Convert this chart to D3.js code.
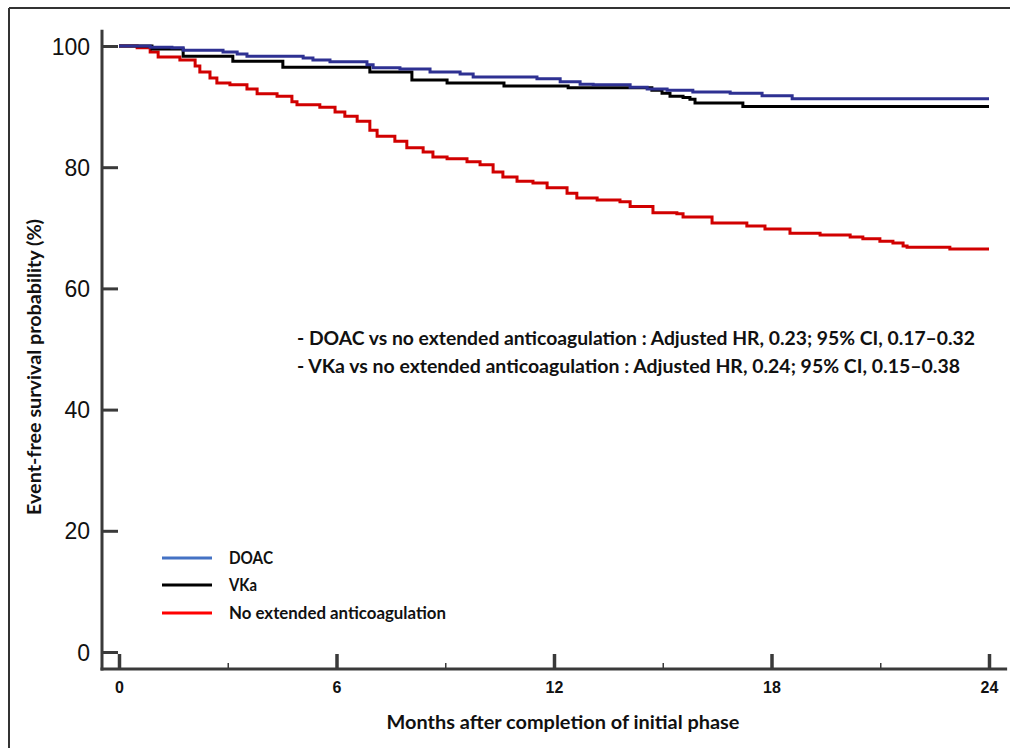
<!DOCTYPE html>
<html>
<head>
<meta charset="utf-8">
<script src="https://cdn.jsdelivr.net/npm/d3@7/dist/d3.min.js"></script>
<style>
  html, body { margin: 0; padding: 0; background: #fff; }
  svg { display: block; font-family: Lato, "Open Sans", "Noto Sans", sans-serif; }
</style>
</head>
<body>
<svg id="chart" width="1010" height="748"></svg>
<script>
// ---- Data (months, event-free survival %) ----
const doacMonths = [0, 0.86, 1.46, 1.77, 2.87, 3.26, 3.53, 5.08, 5.35, 5.82, 6.84, 7.01, 7.75, 8.58, 9.41, 9.77, 11.53, 12.17, 12.72, 13.08, 14.10, 14.57, 15.12, 15.83, 16.86, 17.74, 18.57, 24];
const doacValues = [100, 99.8, 99.7, 99.3, 99.0, 98.7, 98.3, 98.0, 97.7, 97.4, 96.9, 96.4, 96.2, 95.7, 95.4, 94.9, 94.6, 94.1, 93.7, 93.6, 93.2, 92.9, 92.7, 92.4, 92.2, 91.8, 91.3, 91.3];

const vkaMonths = [0, 0.91, 1.77, 3.14, 4.52, 6.92, 8.08, 9.05, 10.62, 12.39, 14.70, 14.98, 15.20, 15.56, 15.75, 15.89, 17.21, 24];
const vkaValues = [100, 99.5, 98.3, 97.5, 96.5, 95.7, 94.4, 93.9, 93.4, 93.1, 92.7, 92.2, 91.7, 91.5, 91.2, 90.6, 90.0, 90.0];

const noneMonths = [0, 0.50, 0.86, 1.08, 1.68, 2.10, 2.23, 2.51, 2.70, 3.06, 3.53, 3.81, 4.36, 4.77, 4.91, 5.54, 5.96, 6.23, 6.57, 6.92, 7.12, 7.61, 7.94, 8.39, 8.66, 9.05, 9.60, 9.96, 10.32, 10.59, 10.98, 11.42, 11.81, 12.36, 12.63, 13.19, 13.82, 14.10, 14.73, 15.39, 15.56, 16.36, 17.32, 17.82, 18.51, 19.34, 20.17, 20.52, 20.99, 21.35, 21.63, 21.74, 22.92, 24];
const noneValues = [100, 99.7, 99.0, 98.2, 97.7, 96.7, 95.7, 94.7, 93.9, 93.6, 92.9, 92.1, 91.7, 90.8, 90.3, 89.9, 89.1, 88.4, 87.6, 86.1, 85.1, 84.3, 83.2, 82.5, 81.7, 81.4, 80.9, 80.4, 79.2, 78.4, 77.7, 77.4, 76.6, 75.7, 74.9, 74.6, 74.3, 73.5, 72.5, 72.3, 71.8, 70.8, 70.3, 69.8, 69.1, 68.8, 68.5, 68.2, 67.8, 67.5, 67.0, 66.8, 66.5, 66.5];

const seriesNames = ["DOAC", "VKa", "No extended anticoagulation"];
const curveColors = ["#2E3192", "#000000", "#D10000"];
const legendColors = ["#4472C4", "#000000", "#FF0000"];

const xMajorTicks = [0, 6, 12, 18, 24];
const xMinorTicks = [3, 9, 15, 21];
const yTicks = [0, 20, 40, 60, 80, 100];

const xTitle = "Months after completion of initial phase";
const yTitle = "Event-free survival probability (%)";
const annotations = [
  "- DOAC vs no extended anticoagulation : Adjusted HR, 0.23; 95% CI, 0.17\u20130.32",
  "- VKa vs no extended anticoagulation : Adjusted HR, 0.24; 95% CI, 0.15\u20130.38"
];

// ---- Layout ----
const svg = d3.select("#chart");
const axisColor = "#3a3a3a";
const textColor = "#111";

const x = d3.scaleLinear().domain([0, 24]).range([119, 989]);
const y = d3.scaleLinear().domain([0, 100]).range([652, 46]);
const axisX = 102;   // y-axis line position
const axisY = 669;   // x-axis line position

// outer frame (top & left edges visible)
svg.append("line").attr("x1", 9).attr("x2", 1010).attr("y1", 8).attr("y2", 8)
  .attr("stroke", "#333").attr("stroke-width", 2);
svg.append("line").attr("x1", 9).attr("x2", 9).attr("y1", 8).attr("y2", 748)
  .attr("stroke", "#333").attr("stroke-width", 2);

// Y axis
const yAxisG = svg.append("g").attr("transform", `translate(${axisX},0)`)
  .call(d3.axisLeft(y).tickValues(yTicks).tickSize(-16).tickPadding(12).tickFormat(d3.format("d")));
yAxisG.select(".domain").remove();
yAxisG.selectAll(".tick line").attr("stroke", axisColor).attr("stroke-width", 3);
yAxisG.selectAll(".tick text").attr("fill", textColor).style("font-size", "23px")
  .style("font-weight", "400").attr("dy", "0.35em");
yAxisG.append("line").attr("x1", 0).attr("x2", 0)
  .attr("y1", y(102.7)).attr("y2", axisY + 1.5)
  .attr("stroke", axisColor).attr("stroke-width", 3);

// X axis
const xAxisG = svg.append("g").attr("transform", `translate(0,${axisY})`)
  .call(d3.axisBottom(x).tickValues(xMajorTicks).tickSize(-15).tickPadding(13).tickFormat(d3.format("d")));
xAxisG.select(".domain").remove();
xAxisG.selectAll(".tick line").attr("stroke", axisColor).attr("stroke-width", 3.5);
xAxisG.selectAll(".tick text").attr("fill", textColor).style("font-size", "16px")
  .style("font-weight", "700");
const xMinorG = svg.append("g").attr("transform", `translate(0,${axisY})`)
  .call(d3.axisBottom(x).tickValues(xMinorTicks).tickSize(-6).tickFormat(""));
xMinorG.select(".domain").remove();
xMinorG.selectAll(".tick line").attr("stroke", axisColor).attr("stroke-width", 1.5);
xAxisG.append("line").attr("x1", axisX - 1.5).attr("x2", x(24.5))
  .attr("y1", 0).attr("y2", 0)
  .attr("stroke", axisColor).attr("stroke-width", 3);

// Curves
const allSeries = [
  { months: noneMonths, values: noneValues, idx: 2 },
  { months: vkaMonths, values: vkaValues, idx: 1 },
  { months: doacMonths, values: doacValues, idx: 0 }
];
const line = d3.line().x(d => x(d[0])).y(d => y(d[1])).curve(d3.curveStepAfter);
allSeries.forEach(s => {
  const pts = s.months.map((m, j) => [m, s.values[j]]);
  svg.append("path").datum(pts).attr("d", line)
    .attr("fill", "none").attr("stroke", curveColors[s.idx]).attr("stroke-width", 3)
    .attr("stroke-linejoin", "miter");
});

// Legend
const legendY = [558, 585, 613];
const legendWidths = [44, 28, 217];
const lg = svg.append("g");
seriesNames.forEach((name, i) => {
  lg.append("line").attr("x1", 162).attr("x2", 212).attr("y1", legendY[i]).attr("y2", legendY[i])
    .attr("stroke", legendColors[i]).attr("stroke-width", 3);
  lg.append("text").attr("x", 229).attr("y", legendY[i]).attr("dy", "0.35em")
    .style("font-size", "16.5px").style("font-weight", "700").attr("fill", textColor)
    .attr("textLength", legendWidths[i]).attr("lengthAdjust", "spacingAndGlyphs")
    .text(name);
});

// Annotations
const annotationWidths = [678, 663];
annotations.forEach((t, i) => {
  svg.append("text").attr("x", 297).attr("y", 338 + i * 28).attr("dy", "0.35em")
    .style("font-size", "19px").style("font-weight", "700").attr("fill", textColor)
    .attr("textLength", annotationWidths[i]).attr("lengthAdjust", "spacingAndGlyphs")
    .text(t);
});

// Axis titles
svg.append("text").attr("x", 563).attr("y", 722).attr("text-anchor", "middle")
  .attr("dy", "0.35em").style("font-size", "19.5px").style("font-weight", "700").attr("fill", textColor)
  .attr("textLength", 353).attr("lengthAdjust", "spacingAndGlyphs")
  .text(xTitle);
svg.append("text").attr("transform", "translate(35,367) rotate(-90)").attr("text-anchor", "middle")
  .attr("dy", "0.35em").style("font-size", "18px").style("font-weight", "700").attr("fill", textColor)
  .attr("textLength", 296).attr("lengthAdjust", "spacingAndGlyphs")
  .text(yTitle);
</script>
</body>
</html>
